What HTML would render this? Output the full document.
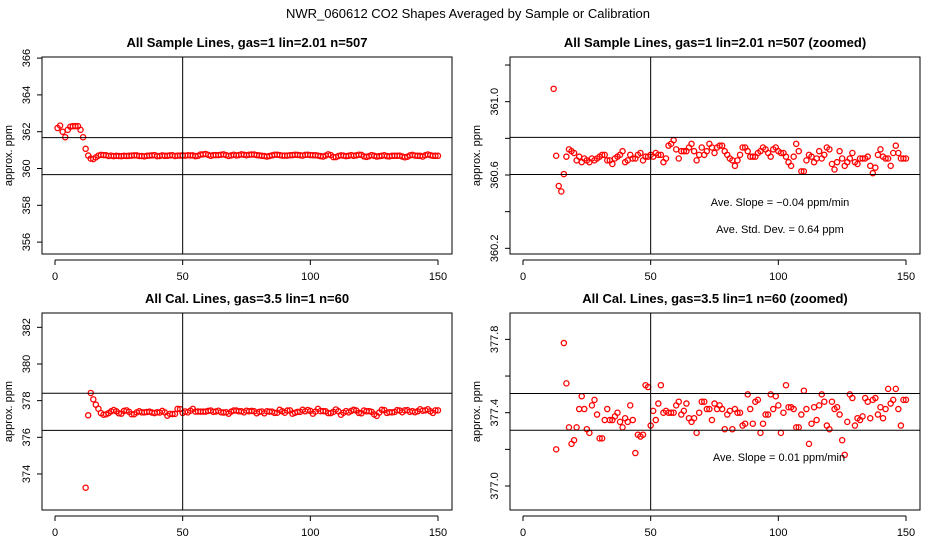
<!DOCTYPE html>
<html><head><meta charset="utf-8"><style>
html,body{margin:0;padding:0;background:#fff;}
svg{display:block;font-family:"Liberation Sans",sans-serif;}
</style></head><body>
<svg id="chart" width="936" height="540" viewBox="0 0 936 540">
<text x="468" y="18" text-anchor="middle" font-size="13">NWR_060612  CO2 Shapes Averaged by Sample or Calibration</text>
</svg>
<script>
// Sample data: x = 1..150
const sampleX = [];
for (let i = 1; i <= 150; i++) sampleX.push(i);
const sampleY = [362.2,362.33,362.0,361.7,362.1,362.27,362.3,362.3,362.3,362.1,361.7,
361.07,360.705,360.54,360.51,360.605,360.70,360.74,360.73,360.72,360.68,360.70,360.67,360.69,360.68,360.67,360.69,360.68,360.69,360.70,
360.71,360.71,360.68,360.68,360.66,360.69,360.70,360.71,360.73,360.67,360.68,360.71,360.69,360.69,360.71,360.72,360.68,360.70,360.70,360.71,
360.70,360.72,360.71,360.71,360.67,360.69,360.76,360.77,360.79,360.74,360.69,360.73,360.73,360.73,360.75,360.77,360.73,360.68,360.71,360.75,
360.71,360.73,360.77,360.75,360.72,360.75,360.76,360.76,360.73,360.71,360.69,360.68,360.65,360.68,360.71,360.75,360.75,360.73,360.70,360.70,
360.70,360.72,360.73,360.75,360.74,360.72,360.70,360.74,360.75,360.73,360.72,360.72,360.70,360.67,360.65,360.70,360.77,360.73,360.62,360.62,
360.68,360.71,360.70,360.67,360.69,360.73,360.69,360.71,360.75,360.74,360.66,360.63,360.67,360.73,360.69,360.65,360.67,360.69,360.72,360.67,
360.66,360.69,360.69,360.69,360.70,360.65,360.61,360.64,360.71,360.74,360.70,360.69,360.69,360.65,360.72,360.76,360.72,360.69,360.69,360.69];
// Calibration data: x = 1..150 (null = no value)
const calX = [];
for (let i = 1; i <= 150; i++) calX.push(i);
const calY = [null,null,null,null,null,null,null,null,null,null,null,
373.25,377.20,378.42,378.07,377.78,377.56,377.32,377.23,377.25,377.32,377.42,377.49,377.42,377.31,377.29,377.44,377.47,377.39,377.26,
377.26,377.36,377.42,377.36,377.36,377.38,377.40,377.35,377.32,377.37,377.35,377.44,377.36,377.18,377.28,377.27,377.28,377.55,377.54,377.33,
377.41,377.36,377.45,377.55,377.40,377.41,377.40,377.40,377.40,377.44,377.46,377.39,377.41,377.45,377.37,377.35,377.37,377.29,377.40,377.46,
377.46,377.42,377.42,377.36,377.45,377.42,377.44,377.42,377.31,377.39,377.41,377.31,377.42,377.40,377.40,377.33,377.34,377.50,377.42,377.34,
377.46,377.47,377.29,377.34,377.39,377.39,377.50,377.42,377.49,377.44,377.29,377.40,377.55,377.43,377.43,377.42,377.32,377.32,377.39,377.52,
377.42,377.23,377.34,377.43,377.36,377.44,377.50,377.46,377.33,377.31,377.46,377.42,377.43,377.39,377.25,377.17,377.35,377.50,377.48,377.33,
377.37,377.36,377.38,377.48,377.46,377.37,377.47,377.48,377.39,377.43,377.37,377.42,377.53,377.45,377.47,377.53,377.42,377.33,377.47,377.47];
const xTicks = [0,50,100,150];
const p1Ticks = [356,358,360,362,364,366];
const p2Ticks = [360.2,360.4,360.6,360.8,361.0,361.2];
const p2Labels = ["360.2",null,"360.6",null,"361.0",null];
const p3Ticks = [374,376,378,380,382];
const p4Ticks = [377.0,377.2,377.4,377.6,377.8];
const p4Labels = ["377.0",null,"377.4",null,"377.8"];
const p1Lines = [361.68,359.67];
const p2Lines = [360.805,360.603];
const p3Lines = [378.4,376.38];
const p4Lines = [377.505,377.304];

const NS = "http://www.w3.org/2000/svg";
const svg = document.getElementById('chart');
function mk(tag, attrs, parent) {
  const e = document.createElementNS(NS, tag);
  for (const k in attrs) e.setAttribute(k, attrs[k]);
  (parent || svg).appendChild(e);
  return e;
}

const panels = [
  {key:'sample-full', title:'All Sample Lines, gas=1 lin=2.01 n=507', bx:42, by:57, bw:410, bh:197,
   x0:55, x1:438, yv:360, ypx:168.5, ppu:18.4, ticks:p1Ticks, labels:null, lines:p1Lines, xs:sampleX, ys:sampleY, notes:[]},
  {key:'sample-zoomed', title:'All Sample Lines, gas=1 lin=2.01 n=507 (zoomed)', bx:510, by:57, bw:410, bh:197,
   x0:523, x1:906, yv:360.6, ypx:175, ppu:183.3, ticks:p2Ticks, labels:p2Labels, lines:p2Lines, xs:sampleX, ys:sampleY,
   notes:[['Ave. Slope =  \u22120.04  ppm/min',780,206],['Ave. Std. Dev. =  0.64  ppm',780,233]]},
  {key:'cal-full', title:'All Cal. Lines, gas=3.5 lin=1 n=60', bx:42, by:313, bw:410, bh:197,
   x0:55, x1:438, yv:376, ypx:437.3, ppu:18.33, ticks:p3Ticks, labels:null, lines:p3Lines, xs:calX, ys:calY, notes:[]},
  {key:'cal-zoomed', title:'All Cal. Lines, gas=3.5 lin=1 n=60 (zoomed)', bx:510, by:313, bw:410, bh:197,
   x0:523, x1:906, yv:377.4, ypx:412.7, ppu:183.3, ticks:p4Ticks, labels:p4Labels, lines:p4Lines, xs:calX, ys:calY,
   notes:[['Ave. Slope =  0.01  ppm/min',779,461]]}
];

panels.forEach(p => {
  const g = mk('g', {});
  
  
  const sx = v => p.x0 + (v / 150) * (p.x1 - p.x0);
  const sy = v => p.ypx - (v - p.yv) * p.ppu;
  const t = mk('text', {x: p.bx + p.bw/2, y: p.by - 10, 'text-anchor':'middle', 'font-size':13, 'font-weight':'bold'}, g);
  t.textContent = p.title;
  
  
  // points (clipped)
  const cid = 'clip-' + p.key;
  const cp = mk('clipPath', {id: cid}, g);
  mk('rect', {x:p.bx, y:p.by, width:p.bw, height:p.bh}, cp);
  const pts = mk('g', {'clip-path':'url(#'+cid+')'}, g);
  
  
  for (let i = 0; i < p.xs.length; i++) {
    const v = p.ys[i];
    if (v === null) continue;
    const cy = sy(v);
    if (cy < p.by - 3 || cy > p.by + p.bh + 3) continue;
    const c = mk('circle', {cx: sx(p.xs[i]), cy: cy, r: 2.6, fill:'none', stroke:'#ff0000', 'stroke-width':1.3}, pts);
    
    
  }
  // reference lines
  p.lines.forEach(v => {
    const l = mk('line', {x1:p.bx, x2:p.bx+p.bw, y1:sy(v), y2:sy(v), stroke:'#000', 'stroke-width':1}, g);
    
    
  });
  const vl = mk('line', {x1:sx(50), x2:sx(50), y1:p.by, y2:p.by+p.bh, stroke:'#000', 'stroke-width':1}, g);
  
  
  const box = mk('rect', {x:p.bx, y:p.by, width:p.bw, height:p.bh, fill:'none', stroke:'#000', 'stroke-width':1}, g);
  
  
  // x axis
  const xa = mk('g', {}, g);
  
  
  const ay = p.by + p.bh + 6;
  mk('line', {x1:sx(0), x2:sx(150), y1:ay, y2:ay, stroke:'#000'}, xa);
  xTicks.forEach(v => {
    mk('line', {x1:sx(v), x2:sx(v), y1:ay, y2:ay+5, stroke:'#000'}, xa);
    const tl = mk('text', {x:sx(v), y:ay+20, 'text-anchor':'middle', 'font-size':11}, xa);
    tl.textContent = v;
    
    
  });
  // y axis
  const ya = mk('g', {}, g);
  
  
  const axx = p.bx;
  mk('line', {x1:axx, x2:axx, y1:sy(p.ticks[0]), y2:sy(p.ticks[p.ticks.length-1]), stroke:'#000'}, ya);
  p.ticks.forEach((v, i) => {
    mk('line', {x1:axx-5, x2:axx, y1:sy(v), y2:sy(v), stroke:'#000'}, ya);
    const lab = p.labels ? p.labels[i] : String(v);
    if (lab) {
      const tl = mk('text', {x:axx-12, y:sy(v), 'text-anchor':'middle', 'font-size':11,
        transform:'rotate(-90 '+(axx-12)+' '+sy(v)+')'}, ya);
      tl.textContent = lab;
      
      
    }
  });
  const yt = mk('text', {x:p.bx-30, y:p.by+p.bh/2, 'text-anchor':'middle', 'font-size':11,
    transform:'rotate(-90 '+(p.bx-30)+' '+(p.by+p.bh/2)+')'}, ya);
  yt.textContent = 'approx. ppm';
  
  
  p.notes.forEach(n => {
    const nt = mk('text', {x:n[1], y:n[2], 'text-anchor':'middle', 'font-size':11}, g);
    nt.textContent = n[0];
    
    
  });
});
</script>
</body></html>
